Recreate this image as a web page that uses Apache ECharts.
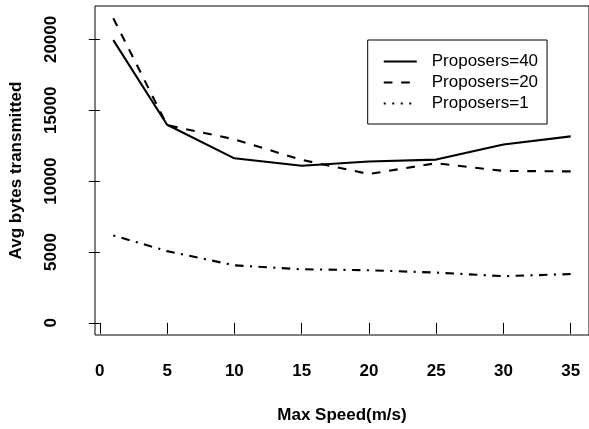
<!DOCTYPE html>
<html>
<head>
<meta charset="utf-8">
<script src="https://cdn.jsdelivr.net/npm/echarts@6/dist/echarts.min.js"></script>
<style>html,body{margin:0;padding:0;background:#fff;}#c{width:589px;height:429px;}</style>
</head>
<body>
<div id="c"></div>
<script>
var speeds = [1, 5, 10, 15, 20, 25, 30, 35];
var proposers40 = [19950, 13980, 11610, 11080, 11380, 11520, 12580, 13160];
var proposers20 = [21500, 13950, 12950, 11500, 10500, 11265, 10720, 10685];
var proposers1 = [6170, 5060, 4060, 3780, 3710, 3545, 3290, 3440];
var xTicks = [0, 5, 10, 15, 20, 25, 30, 35];
var yTicks = [0, 5000, 10000, 15000, 20000];
var seriesNames = ['Proposers=40', 'Proposers=20', 'Proposers=1'];

function pairs(ys) { return speeds.map(function (x, i) { return [x, ys[i]]; }); }

var FONT = 'Liberation Sans';
var chart = echarts.init(document.getElementById('c'), null, {renderer: 'canvas'});
chart.setOption({
  animation: false,
  backgroundColor: '#fff',
  grid: {left: 89.4, top: 6, width: 502, height: 334, show: true, borderColor: '#000', borderWidth: 1, containLabel: false},
  xAxis: {
    type: 'value', min: -0.36, max: 36.36,
    name: 'Max Speed(m/s)', nameLocation: 'middle', nameGap: 72,
    nameTextStyle: {fontFamily: FONT, fontWeight: 'bold', fontSize: 17, color: '#000'},
    axisLine: {show: false},
    axisTick: {show: true, inside: false, length: 11, customValues: xTicks, lineStyle: {color: '#000', width: 1}},
    axisLabel: {customValues: xTicks, margin: 28, fontFamily: FONT, fontWeight: 'bold', fontSize: 17, color: '#000',
      formatter: function (v) { return String(v); }},
    splitLine: {show: false}
  },
  yAxis: {
    type: 'value', min: -860, max: 22360,
    name: 'Avg bytes transmitted', nameLocation: 'middle', nameGap: 70,
    nameTextStyle: {fontFamily: FONT, fontWeight: 'bold', fontSize: 17, color: '#000'},
    axisLine: {show: false},
    axisTick: {show: true, inside: false, length: 11, customValues: yTicks, lineStyle: {color: '#000', width: 1}},
    axisLabel: {customValues: yTicks, rotate: 90, margin: 35, fontFamily: FONT, fontWeight: 'bold', fontSize: 17, color: '#000',
      formatter: function (v) { return String(v); }},
    splitLine: {show: false}
  },
  legend: {
    orient: 'vertical', left: 367.7, top: 40,
    borderColor: '#000', borderWidth: 1, padding: [11, 9, 10, 15],
    itemWidth: 33, itemHeight: 14, itemGap: 0,
    itemStyle: {opacity: 0},
    lineStyle: {opacity: 1, width: 2.1, color: '#000'},
    textStyle: {fontFamily: FONT, fontSize: 17, color: '#000', lineHeight: 21, padding: [0, 0, 0, 10]},
    data: [
      {name: seriesNames[0]},
      {name: seriesNames[1]},
      {name: seriesNames[2], lineStyle: {type: [2, 6.5]}}
    ]
  },
  series: [
    {name: seriesNames[0], type: 'line', data: pairs(proposers40), symbol: 'none', lineStyle: {color: '#000', width: 2.1, type: 'solid'}, itemStyle: {color: '#000'}},
    {name: seriesNames[1], type: 'line', data: pairs(proposers20), symbol: 'none', lineStyle: {color: '#000', width: 2.1, type: [8.7, 8.7]}, itemStyle: {color: '#000'}},
    {name: seriesNames[2], type: 'line', data: pairs(proposers1), symbol: 'none', lineStyle: {color: '#000', width: 2.1, type: [2.1, 6.4, 8.5, 6.4]}, itemStyle: {color: '#000'}}
  ]
});
</script>
</body>
</html>
